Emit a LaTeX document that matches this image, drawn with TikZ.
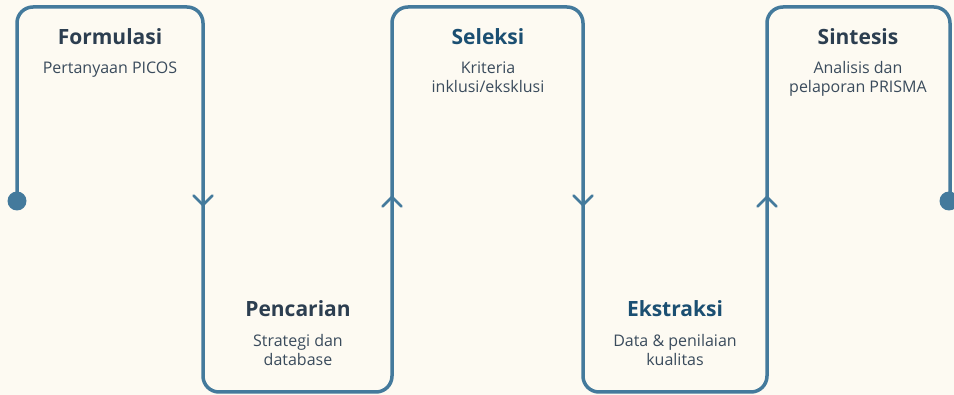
\documentclass[tikz,border=0pt]{standalone}
\usepackage{fontspec}
\setmainfont{Open Sans}
\definecolor{cream}{HTML}{FDFAF2}
\definecolor{pathblue}{HTML}{447A9C}
\definecolor{slatedark}{HTML}{2C3E50}
\definecolor{deepblue}{HTML}{1B4F72}
\definecolor{bodygrey}{HTML}{3A4B5C}
\tikzset{
  steptitle/.style={font=\fontsize{21}{24}\selectfont\bfseries, text=slatedark, inner sep=0pt, anchor=base},
  stepnote/.style={font=\fontsize{16}{19}\selectfont, text=bodygrey, inner sep=0pt, anchor=north, align=center},
}
\begin{document}
\begin{tikzpicture}[x=1pt,y=-1pt]

\fill[cream] (0,0) rectangle (954,395);
\useasboundingbox (0,0) rectangle (954,395);

\draw[pathblue, line width=3.5pt, rounded corners=16pt]
    (17,201) -- (17,7) -- (203,7) -- (203,392) -- (392,392) -- (392,7)
    -- (583,7) -- (583,392) -- (767,392) -- (767,7) -- (950,7) -- (950,201);

\fill[pathblue] (17,201) circle (9.5);
\fill[pathblue] (949,201) circle (9.5);

\draw[pathblue, line width=2.5pt, line cap=round, line join=round]
    (193.5,195.5) -- (203,205) -- (212.5,195.5);
\draw[pathblue, line width=2.5pt, line cap=round, line join=round]
    (382.5,206.5) -- (392,197) -- (401.5,206.5);
\draw[pathblue, line width=2.5pt, line cap=round, line join=round]
    (573.5,195.5) -- (583,205) -- (592.5,195.5);
\draw[pathblue, line width=2.5pt, line cap=round, line join=round]
    (757.5,206.5) -- (767,197) -- (776.5,206.5);

\node[steptitle] (formulasi) at (110,45) {Formulasi};
\node[stepnote] (formulasinote) at (110,61.5) {Pertanyaan PICOS};

\node[steptitle, text=deepblue] (seleksi) at (488,45) {Seleksi};
\node[stepnote] (seleksinote) at (488,61.5) {Kriteria\\inklusi/eksklusi};

\node[steptitle] (sintesis) at (858,45) {Sintesis};
\node[stepnote] (sintesisnote) at (858,61.5) {Analisis dan\\pelaporan PRISMA};

\node[steptitle] (pencarian) at (298,317) {Pencarian};
\node[stepnote] (pencariannote) at (298,334.5) {Strategi dan\\database};

\node[steptitle, text=deepblue] (ekstraksi) at (675,317) {Ekstraksi};
\node[stepnote] (ekstraksinote) at (675,334.5) {Data \& penilaian\\kualitas};

\end{tikzpicture}
\end{document}
